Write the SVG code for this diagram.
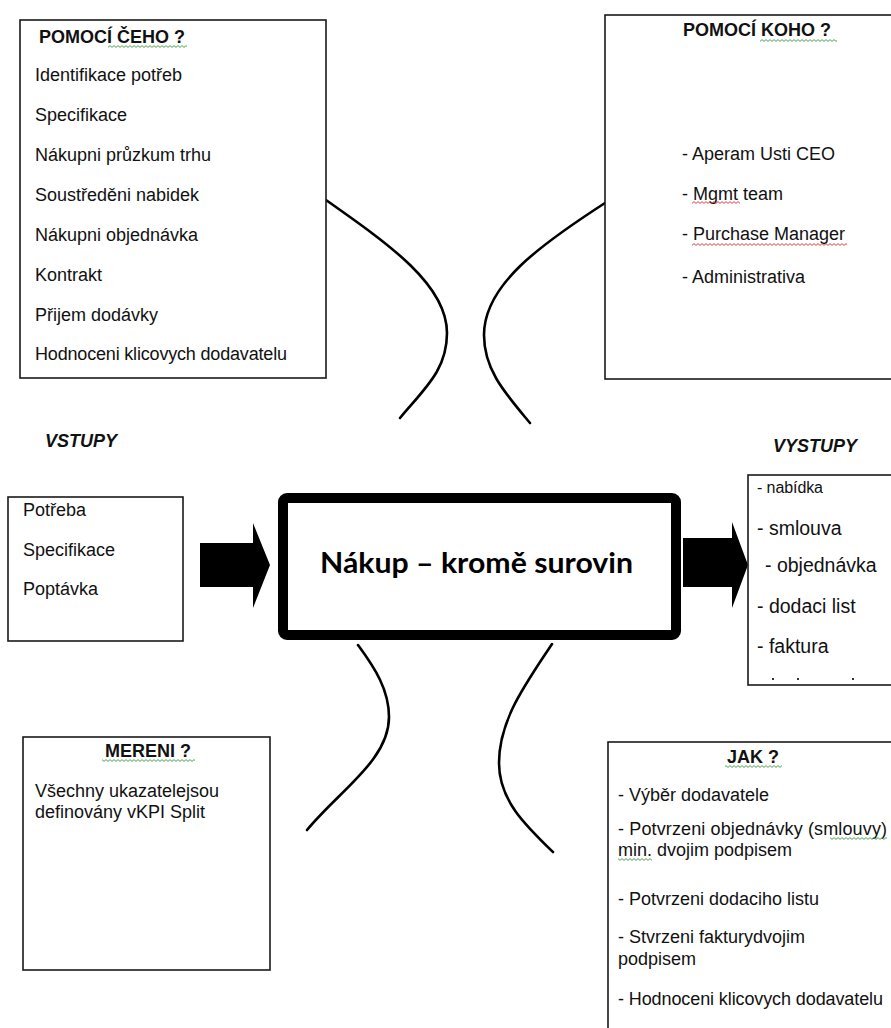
<svg xmlns="http://www.w3.org/2000/svg" width="891" height="1028" viewBox="0 0 891 1028">
  <style>
    .box { fill: #ffffff; stroke: #1a1a1a; stroke-width: 1.6; }
    .core { fill: #ffffff; stroke: #000000; stroke-width: 10; }
    .t { font-family: "Liberation Sans", Arial, sans-serif; font-size: 18px; fill: #111111; }
    .out { font-family: "Liberation Sans", Arial, sans-serif; font-size: 19.5px; fill: #111111; }
    .h { font-family: "Liberation Sans", Arial, sans-serif; font-size: 18px; font-weight: bold; fill: #111111; }
    .hi { font-family: "Liberation Sans", Arial, sans-serif; font-size: 18px; font-weight: bold; font-style: italic; fill: #111111; }
    .main { font-family: Lato, "Open Sans", "Liberation Sans", sans-serif; font-size: 28px; font-weight: bold; fill: #000000; }
    .curve { fill: none; stroke: #000000; stroke-width: 2.6; stroke-linecap: round; }
    .arrow { fill: #000000; }
  </style>
  <defs>
    <!-- spell-check style squiggles -->
    <pattern id="waveG" width="4" height="3" patternUnits="userSpaceOnUse">
      <path d="M0,2.4 L2,0.6 L4,2.4" fill="none" stroke="#3a9a3a" stroke-width="0.9"/>
    </pattern>
    <pattern id="waveR" width="4" height="3" patternUnits="userSpaceOnUse">
      <path d="M0,2.4 L2,0.6 L4,2.4" fill="none" stroke="#e02a2a" stroke-width="0.9"/>
    </pattern>
  </defs>

  <rect width="891" height="1028" fill="#ffffff"/>

  <!-- connectors: curved links and block arrows -->
  <g id="connectors">
    <path class="curve" d="M326,200 C390,245 447,285 447,333 C447,370 425,388 400,418"/>
    <path class="curve" d="M605,203 C540,245 484,285 484,335 C484,370 505,393 530,423"/>
    <path class="curve" d="M358,645 C375,668 389,690 389,717 C389,760 340,790 307,830"/>
    <path class="curve" d="M552,644 C525,685 499,720 499,763 C499,800 525,825 553,852"/>
    <polygon class="arrow" points="200,543 253,543 253,523 270,565 253,608 253,587 200,587"/>
    <polygon class="arrow" points="683,538 732,538 732,522 748,565 732,608 732,587 683,587"/>
  </g>

  <!-- resources -->
  <g id="pomoci-ceho">
    <rect class="box" x="20" y="20" width="306" height="358"/>
    <text class="h" x="39" y="43">POMOCÍ ČEHO ?</text>
    <rect x="108" y="45" width="79" height="3" fill="url(#waveG)"/>
    <text class="t" x="35" y="81">Identifikace potřeb</text>
    <text class="t" x="35" y="121">Specifikace</text>
    <text class="t" x="35" y="161">Nákupni průzkum trhu</text>
    <text class="t" x="35" y="201">Soustředěni nabidek</text>
    <text class="t" x="35" y="241">Nákupni objednávka</text>
    <text class="t" x="35" y="281">Kontrakt</text>
    <text class="t" x="35" y="321">Přijem dodávky</text>
    <text class="t" x="35" y="360" textLength="252">Hodnoceni klicovych dodavatelu</text>
  </g>

  <!-- people -->
  <g id="pomoci-koho">
    <rect class="box" x="605" y="15" width="290" height="364"/>
    <text class="h" x="757" y="36" text-anchor="middle">POMOCÍ KOHO ?</text>
    <rect x="760" y="39" width="77" height="3" fill="url(#waveG)"/>
    <text class="t" x="682" y="160">- Aperam Usti CEO</text>
    <text class="t" x="682" y="200">- Mgmt team</text>
    <rect x="692" y="201" width="48" height="3" fill="url(#waveR)"/>
    <text class="t" x="682" y="240">- Purchase Manager</text>
    <rect x="692" y="243" width="155" height="3" fill="url(#waveR)"/>
    <text class="t" x="682" y="283">- Administrativa</text>
  </g>

  <!-- inputs -->
  <g id="vstupy">
    <text class="hi" x="45" y="447">VSTUPY</text>
    <rect class="box" x="8" y="497" width="175" height="144"/>
    <text class="t" x="23" y="516">Potřeba</text>
    <text class="t" x="23" y="556">Specifikace</text>
    <text class="t" x="23" y="595">Poptávka</text>
  </g>

  <!-- process -->
  <g id="nakup">
    <rect class="core" x="283" y="498" width="393" height="137" rx="4"/>
    <text class="main" x="476.5" y="573" text-anchor="middle" textLength="313" lengthAdjust="spacingAndGlyphs">Nákup – kromě surovin</text>
  </g>

  <!-- outputs -->
  <g id="vystupy">
    <text class="hi" x="773" y="452">VYSTUPY</text>
    <rect class="box" x="748" y="475" width="150" height="210"/>
    <text class="t" x="757" y="493" style="font-size:16px" textLength="66">- nabídka</text>
    <text class="out" x="757" y="535">- smlouva</text>
    <text class="out" x="765" y="572">- objednávka</text>
    <text class="out" x="757" y="613">- dodaci list</text>
    <text class="out" x="757" y="653">- faktura</text>
    <rect x="772" y="678" width="2" height="2" fill="#333333"/>
    <rect x="797" y="678" width="2" height="2" fill="#333333"/>
    <rect x="852" y="678" width="2" height="2" fill="#333333"/>
  </g>

  <!-- measurement -->
  <g id="mereni">
    <rect class="box" x="23" y="737" width="247" height="233"/>
    <text class="h" x="148" y="757" text-anchor="middle">MERENI ?</text>
    <rect x="102" y="759" width="93" height="3" fill="url(#waveG)"/>
    <text class="t" x="35" y="797">Všechny ukazatelejsou</text>
    <text class="t" x="35" y="818">definovány vKPI Split</text>
  </g>

  <!-- method -->
  <g id="jak">
    <rect class="box" x="608" y="742" width="290" height="300"/>
    <text class="h" x="753" y="763" text-anchor="middle">JAK ?</text>
    <rect x="725" y="765" width="57" height="3" fill="url(#waveG)"/>
    <text class="t" x="618" y="801">- Výběr dodavatele</text>
    <text class="t" x="618" y="835" textLength="269">- Potvrzeni objednávky (smlouvy)</text>
    <rect x="830" y="837" width="57" height="3" fill="url(#waveG)"/>
    <text class="t" x="618" y="856">min. dvojim podpisem</text>
    <rect x="618" y="858" width="34" height="3" fill="url(#waveG)"/>
    <text class="t" x="618" y="905">- Potvrzeni dodaciho listu</text>
    <text class="t" x="618" y="943">- Stvrzeni fakturydvojim</text>
    <text class="t" x="618" y="965">podpisem</text>
    <text class="t" x="618" y="1005" textLength="265">- Hodnoceni klicovych dodavatelu</text>
  </g>
</svg>
